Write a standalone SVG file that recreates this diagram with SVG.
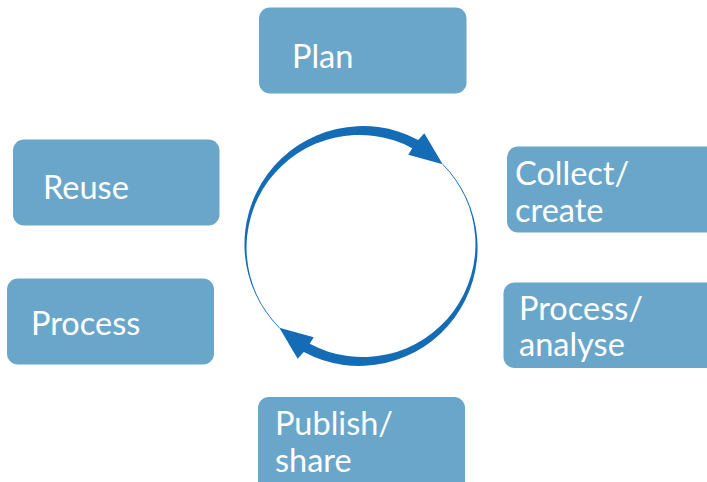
<svg xmlns="http://www.w3.org/2000/svg" xmlns:xlink="http://www.w3.org/1999/xlink" width="707" height="482" viewBox="0 0 707 482">
<style>
.box{fill:#6aa6ca;}
.lbl{font-family:Lato,"Liberation Sans",sans-serif;font-size:32.5px;fill:#ffffff;}
.arr{fill:#156cb6;}
</style>
<defs>
<path id="cyc" class="arr" d="M279.08,327.92 A118.25,118.25 0 0 1 418.22,139.9 L424.3,133.3 L442.7,164.3 L408.3,154.8 L412.24,148.15 A112.75,112.75 0 0 0 279.57,327.43 Z"/>
</defs>
<rect width="707" height="482" fill="#ffffff"/>
<g id="connectors">
<use xlink:href="#cyc"/>
<use xlink:href="#cyc" transform="rotate(180 361 246)"/>
</g>
<g id="plan"><rect class="box" x="259" y="7.5" width="207.5" height="86" rx="11"/><text class="lbl" x="292" y="67.5">Plan</text></g>
<g id="collect"><rect class="box" x="507" y="146.5" width="215" height="86" rx="11"/><text class="lbl" x="515" y="185">Collect/</text><text class="lbl" x="515" y="221.5">create</text></g>
<g id="analyse"><rect class="box" x="503.5" y="282.5" width="215" height="85.5" rx="11"/><text class="lbl" x="519" y="319.5">Process/</text><text class="lbl" x="519" y="356">analyse</text></g>
<g id="publish"><rect class="box" x="258" y="397" width="207" height="95" rx="11"/><text class="lbl" x="275" y="435">Publish/</text><text class="lbl" x="275" y="472">share</text></g>
<g id="reuse"><rect class="box" x="13" y="139.5" width="206.5" height="86" rx="11"/><text class="lbl" x="43" y="199">Reuse</text></g>
<g id="process"><rect class="box" x="7" y="278.5" width="207" height="86" rx="11"/><text class="lbl" x="31" y="335">Process</text></g>
</svg>
